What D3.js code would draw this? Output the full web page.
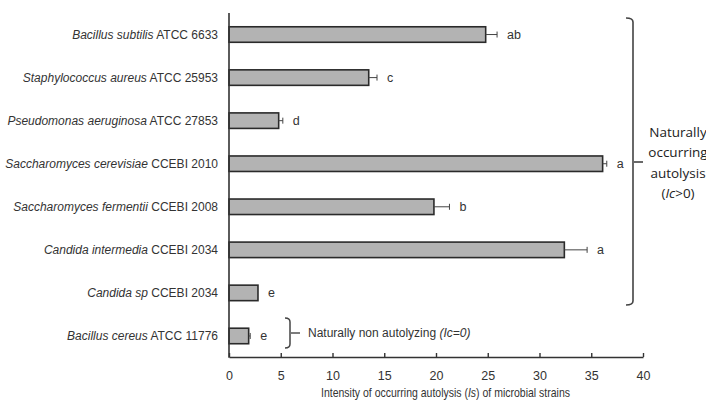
<!DOCTYPE html>
<html><head><meta charset="utf-8">
<script src="https://cdn.jsdelivr.net/npm/d3@7"></script>
<style>
body{margin:0;background:#fff;}
svg{display:block;}
</style></head>
<body>
<svg id="chart" width="706" height="405"></svg>
<script>
const speciesItalic = ["Bacillus subtilis","Staphylococcus aureus","Pseudomonas aeruginosa","Saccharomyces cerevisiae","Saccharomyces fermentii","Candida intermedia","Candida sp","Bacillus cereus"];
const strainCodes = ["ATCC 6633","ATCC 25953","ATCC 27853","CCEBI 2010","CCEBI 2008","CCEBI 2034","CCEBI 2034","ATCC 11776"];
const values = [24.8, 13.5, 4.8, 36.1, 19.8, 32.4, 2.8, 1.9];
const errors = [1.1, 0.8, 0.4, 0.4, 1.5, 2.2, 0, 0.15];
const letters = ["ab","c","d","a","b","a","e","e"];
const xTicks = [0,5,10,15,20,25,30,35,40];
const xTitleParts = ["Intensity of occurring autolysis (","Is",") of microbial strains"];
const groupText1 = ["Naturally","occurring","autolysis"];
const groupText2 = ["Naturally non autolyzing ","(Ic=0)"];

const svg = d3.select("#chart");
const x0 = 229, x1 = 643, yTop = 13, yBot = 357;
const x = d3.scaleLinear().domain([0,40]).range([x0,x1]);
const y = d3.scaleBand().domain(d3.range(values.length)).range([13, 357.5]).paddingInner(0.64).paddingOuter(0.32);
const txt = "#333";
const font = "'Liberation Sans', Arial, sans-serif";

// bars
svg.selectAll("rect.bar").data(values).enter().append("rect")
  .attr("x", x(0)).attr("y",(d,i)=>y(i)).attr("width",d=>x(d)-x(0)).attr("height",y.bandwidth())
  .attr("fill","#b3b3b3").attr("stroke","#2a2a2a").attr("stroke-width",1.6);

// error bars
values.forEach((v,i)=>{
  const e = errors[i]; if(!e) return;
  const cy = y(i)+y.bandwidth()/2;
  svg.append("line").attr("x1",x(v)).attr("x2",x(v+e)).attr("y1",cy).attr("y2",cy).attr("stroke","#444").attr("stroke-width",1);
  svg.append("line").attr("x1",x(v+e)).attr("x2",x(v+e)).attr("y1",cy-3).attr("y2",cy+3).attr("stroke","#444").attr("stroke-width",1);
});

// letters
svg.selectAll("text.let").data(letters).enter().append("text")
  .attr("x",(d,i)=>x(values[i]+errors[i])+10).attr("y",(d,i)=>y(i)+y.bandwidth()/2+4)
  .attr("font-family",font).attr("font-size",12.5).attr("fill",txt).text(d=>d);

// category labels
speciesItalic.forEach((s,i)=>{
  const t = svg.append("text").attr("x",218).attr("y",y(i)+y.bandwidth()/2+4)
    .attr("text-anchor","end").attr("font-family",font).attr("font-size",12).attr("fill",txt);
  t.append("tspan").attr("font-style","italic").text(s);
  t.append("tspan").text(" "+strainCodes[i]);
});

// axes
const ax = svg.append("g").attr("transform",`translate(0,${yBot})`)
  .call(d3.axisBottom(x).tickValues(xTicks).tickSize(-4).tickPadding(14).tickSizeOuter(0));
ax.select(".domain").attr("stroke","#333").attr("stroke-width",1.6);
ax.selectAll(".tick line").attr("stroke","#333").attr("stroke-width",1.4);
ax.selectAll(".tick text").attr("font-family",font).attr("font-size",12.5).attr("fill",txt);
svg.append("line").attr("x1",x0).attr("x2",x0).attr("y1",yTop).attr("y2",yBot+0.8).attr("stroke","#333").attr("stroke-width",1.6);

// x title (condensed like the reference)
const xt = svg.append("text").attr("transform","translate(445.5,397) scale(0.875,1)")
  .attr("text-anchor","middle")
  .attr("font-family",font).attr("font-size",12).attr("fill",txt);
xt.append("tspan").text(xTitleParts[0]);
xt.append("tspan").attr("font-style","italic").text(xTitleParts[1]);
xt.append("tspan").text(xTitleParts[2]);

// big brace
svg.append("path").attr("d","M626,18 Q633,18 633,22 L633,301 Q633,305 626,305")
  .attr("fill","none").attr("stroke","#444").attr("stroke-width",1.6);
svg.append("line").attr("x1",634).attr("x2",643).attr("y1",162).attr("y2",162).attr("stroke","#444").attr("stroke-width",1.6);
const ofont = "'Open Sans', 'Noto Sans', sans-serif";
groupText1.forEach((t,i)=>{
  svg.append("text").attr("x",678).attr("y",137+i*20.3).attr("text-anchor","middle")
    .attr("font-family",ofont).attr("font-size",13.5).attr("fill","#222").text(t);
});
const g4 = svg.append("text").attr("x",678).attr("y",198).attr("text-anchor","middle")
  .attr("font-family",ofont).attr("font-size",13.5).attr("fill","#222");
g4.append("tspan").text("(");
g4.append("tspan").attr("font-style","italic").text("Ic");
g4.append("tspan").text(">0)");

// small brace
svg.append("path").attr("d","M285,318 Q290,318 290,322 L290,344 Q290,348 285,348")
  .attr("fill","none").attr("stroke","#444").attr("stroke-width",1.5);
svg.append("line").attr("x1",291).attr("x2",300).attr("y1",333).attr("y2",333).attr("stroke","#444").attr("stroke-width",1.4);
const st = svg.append("text").attr("x",308).attr("y",337).attr("font-family",font).attr("font-size",12).attr("fill",txt);
st.append("tspan").text(groupText2[0]);
st.append("tspan").attr("font-style","italic").text(groupText2[1]);
</script>
</body></html>
